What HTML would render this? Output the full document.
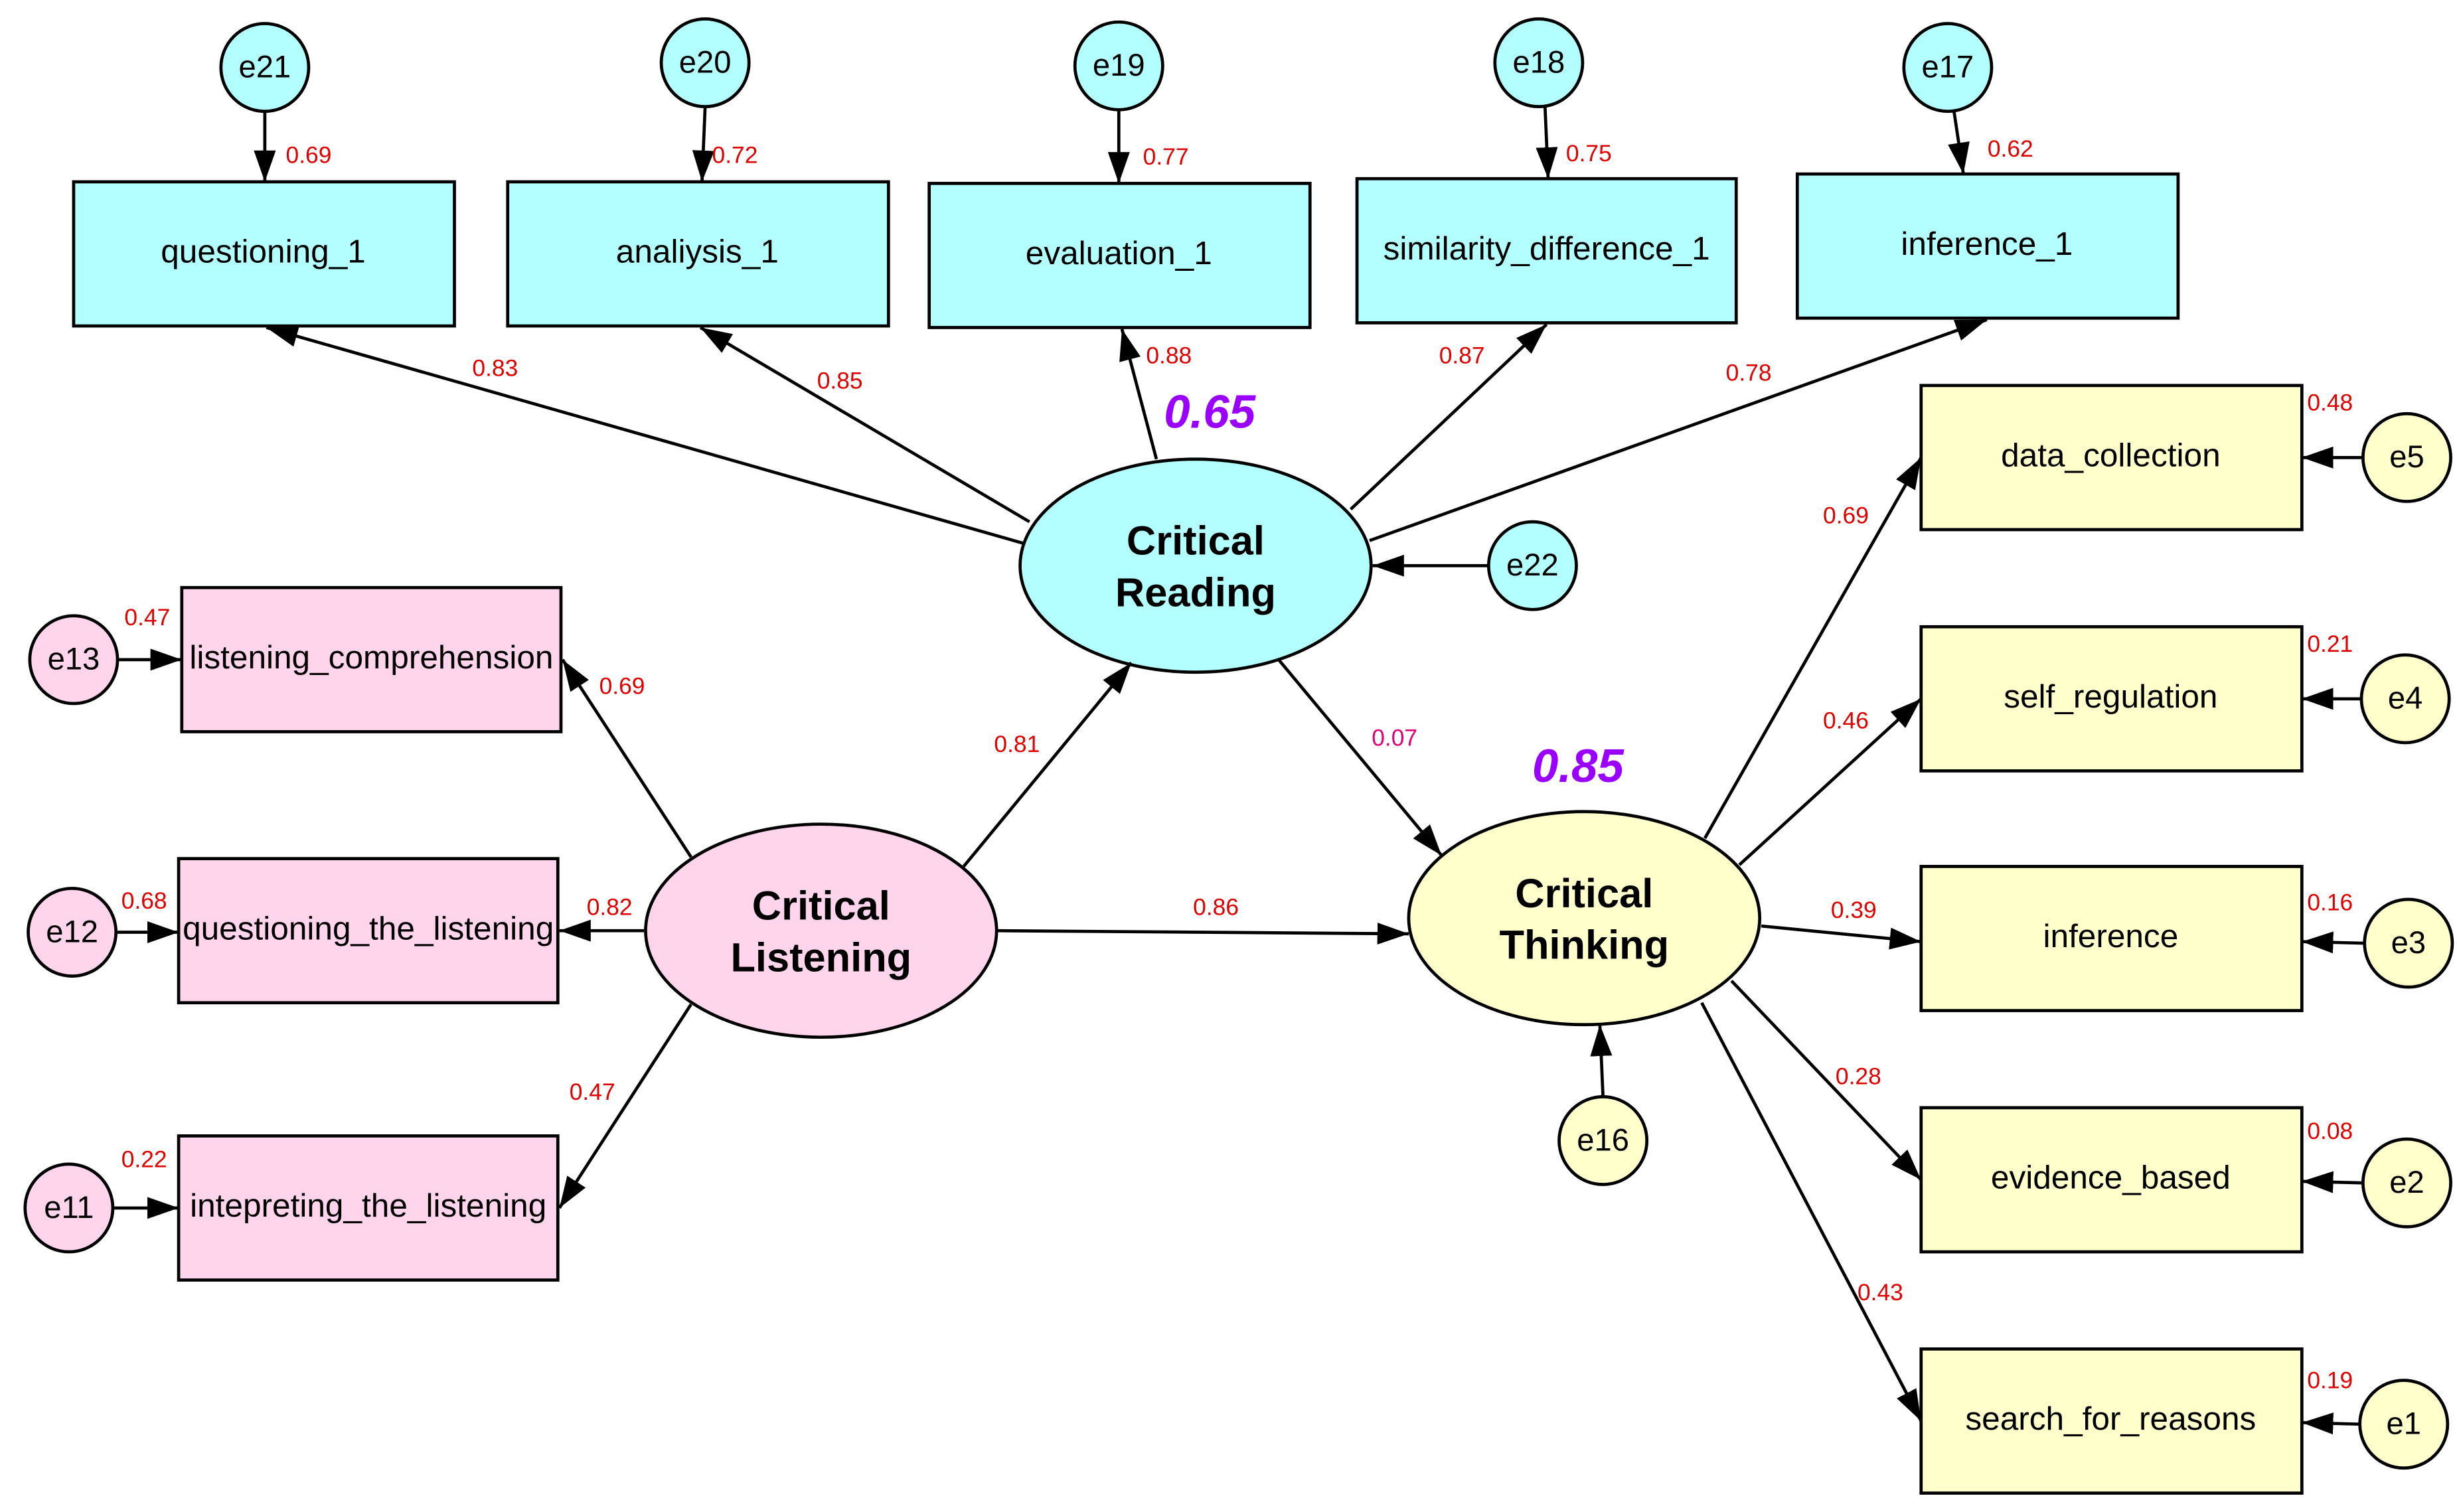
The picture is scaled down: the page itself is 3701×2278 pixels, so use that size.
<!DOCTYPE html>
<html><head><meta charset="utf-8">
<style>
html,body{margin:0;padding:0;background:#fff;}
svg{display:block;}
text{font-family:"Liberation Sans",Arial,sans-serif;}
.bx{font-size:21px;fill:#000;text-anchor:middle;dominant-baseline:middle;}
.el{font-size:26px;font-weight:bold;fill:#000;text-anchor:middle;}
.ci{font-size:20px;fill:#000;text-anchor:middle;dominant-baseline:middle;}
.n{font-size:15px;fill:#e00000;text-anchor:middle;dominant-baseline:middle;}
.p{font-size:30px;font-weight:bold;font-style:italic;fill:#9900ff;text-anchor:middle;}
line{stroke:#000;stroke-width:2;}
rect,circle,ellipse{stroke:#000;stroke-width:2;}
</style></head><body>
<svg width="3701" height="2278" viewBox="0 0 1568 965" xmlns="http://www.w3.org/2000/svg">
<defs>
<marker id="b" markerWidth="20" markerHeight="14" refX="20" refY="7" orient="auto" markerUnits="userSpaceOnUse" viewBox="0 0 20 14"><path d="M0,0 L20,7 L0,14 z" fill="#000"/></marker></defs>
<style>line{marker-end:url(#b);}</style>

<g fill="#b3ffff">
<rect x="47" y="116" width="243" height="92"/>
<rect x="324" y="116" width="243" height="92"/>
<rect x="593" y="117" width="243" height="92"/>
<rect x="866" y="114" width="242" height="92"/>
<rect x="1147" y="111" width="243" height="92"/>
<circle cx="169" cy="43" r="28"/><circle cx="450" cy="40" r="28"/><circle cx="714" cy="42" r="28"/><circle cx="982" cy="40" r="28"/><circle cx="1243" cy="43" r="28"/>
<circle cx="978" cy="361" r="28"/>
<ellipse cx="763" cy="361" rx="112" ry="68"/>
</g>
<text class="bx" x="168" y="162">questioning_1</text>
<text class="bx" x="445" y="162">analiysis_1</text>
<text class="bx" x="714" y="163">evaluation_1</text>
<text class="bx" x="987" y="160">similarity_difference_1</text>
<text class="bx" x="1268" y="157">inference_1</text>
<text class="ci" x="169" y="44">e21</text><text class="ci" x="450" y="41">e20</text><text class="ci" x="714" y="43">e19</text><text class="ci" x="982" y="41">e18</text><text class="ci" x="1243" y="44">e17</text><text class="ci" x="978" y="362">e22</text>
<text class="el" x="763" y="354">Critical</text><text class="el" x="763" y="387">Reading</text>
<line x1="169" y1="71" x2="169" y2="116"/><line x1="450" y1="68" x2="448" y2="116"/><line x1="714" y1="70" x2="714" y2="117"/><line x1="986" y1="68" x2="988" y2="114"/><line x1="1247" y1="71" x2="1253" y2="111"/>
<text class="n" x="197" y="100">0.69</text><text class="n" x="469" y="100">0.72</text><text class="n" x="744" y="101">0.77</text><text class="n" x="1014" y="99">0.75</text><text class="n" x="1283" y="96">0.62</text>
<line x1="950" y1="361" x2="876" y2="361"/>
<line x1="654" y1="347" x2="170" y2="209"/><line x1="657" y1="333" x2="447" y2="209"/><line x1="738" y1="293" x2="716" y2="210"/><line x1="862" y1="325" x2="987" y2="207"/><line x1="874" y1="345" x2="1268" y2="204"/>
<text class="n" x="316" y="236">0.83</text><text class="n" x="536" y="244">0.85</text><text class="n" x="746" y="228">0.88</text><text class="n" x="933" y="228">0.87</text><text class="n" x="1116" y="239">0.78</text>
<text class="p" x="772" y="273">0.65</text>

<g fill="#ffd5ec">
<rect x="116" y="375" width="242" height="92"/>
<rect x="114" y="548" width="242" height="92"/>
<rect x="114" y="725" width="242" height="92"/>
<circle cx="47" cy="421" r="28"/><circle cx="46" cy="595" r="28"/><circle cx="44" cy="771" r="28"/>
<ellipse cx="524" cy="594" rx="112" ry="68"/>
</g>
<text class="bx" x="237" y="421">listening_comprehension</text>
<text class="bx" x="235" y="594">questioning_the_listening</text>
<text class="bx" x="235" y="771">intepreting_the_listening</text>
<text class="ci" x="47" y="422">e13</text><text class="ci" x="46" y="596">e12</text><text class="ci" x="44" y="772">e11</text>
<text class="el" x="524" y="587">Critical</text><text class="el" x="524" y="620">Listening</text>
<line x1="75" y1="421" x2="116" y2="421"/><line x1="74" y1="595" x2="114" y2="595"/><line x1="72" y1="771" x2="114" y2="771"/>
<text class="n" x="94" y="395">0.47</text><text class="n" x="92" y="576">0.68</text><text class="n" x="92" y="741">0.22</text>
<line x1="441" y1="547" x2="359" y2="421"/><line x1="411" y1="594" x2="357" y2="594"/><line x1="441" y1="641" x2="357" y2="771"/>
<text class="n" x="397" y="439">0.69</text><text class="n" x="389" y="580">0.82</text><text class="n" x="378" y="698">0.47</text>
<line x1="615" y1="553" x2="722" y2="423"/><text class="n" x="649" y="476">0.81</text>
<line x1="637" y1="594" x2="899" y2="596"/><text class="n" x="776" y="580">0.86</text>
<line x1="816" y1="421" x2="920" y2="546"/><text class="n" x="890" y="472" style="fill:#e0007a">0.07</text>

<g fill="#ffffcc">
<rect x="1226" y="246" width="243" height="92"/>
<rect x="1226" y="400" width="243" height="92"/>
<rect x="1226" y="553" width="243" height="92"/>
<rect x="1226" y="707" width="243" height="92"/>
<rect x="1226" y="861" width="243" height="92"/>
<circle cx="1536" cy="292" r="28"/><circle cx="1535" cy="446" r="28"/><circle cx="1537" cy="602" r="28"/><circle cx="1536" cy="755" r="28"/><circle cx="1534" cy="909" r="28"/>
<circle cx="1023" cy="728" r="28"/>
<ellipse cx="1011" cy="586" rx="112" ry="68"/>
</g>
<text class="bx" x="1347" y="292">data_collection</text>
<text class="bx" x="1347" y="446">self_regulation</text>
<text class="bx" x="1347" y="599">inference</text>
<text class="bx" x="1347" y="753">evidence_based</text>
<text class="bx" x="1347" y="907">search_for_reasons</text>
<text class="ci" x="1536" y="293">e5</text><text class="ci" x="1535" y="447">e4</text><text class="ci" x="1537" y="603">e3</text><text class="ci" x="1536" y="756">e2</text><text class="ci" x="1534" y="910">e1</text><text class="ci" x="1023" y="729">e16</text>
<text class="el" x="1011" y="579">Critical</text><text class="el" x="1011" y="612">Thinking</text>
<line x1="1508" y1="292" x2="1469" y2="292"/><line x1="1507" y1="446" x2="1469" y2="446"/><line x1="1509" y1="602" x2="1469" y2="601"/><line x1="1508" y1="755" x2="1469" y2="754"/><line x1="1506" y1="909" x2="1469" y2="908"/>
<text class="n" x="1487" y="258">0.48</text><text class="n" x="1487" y="412">0.21</text><text class="n" x="1487" y="577">0.16</text><text class="n" x="1487" y="723">0.08</text><text class="n" x="1487" y="882">0.19</text>
<line x1="1023" y1="700" x2="1021" y2="654"/>
<line x1="1088" y1="535" x2="1226" y2="292"/><line x1="1110" y1="552" x2="1226" y2="446"/><line x1="1124" y1="591" x2="1226" y2="601"/><line x1="1105" y1="626" x2="1226" y2="753"/><line x1="1086" y1="640" x2="1226" y2="907"/>
<text class="n" x="1178" y="330">0.69</text><text class="n" x="1178" y="461">0.46</text><text class="n" x="1183" y="582">0.39</text><text class="n" x="1186" y="688">0.28</text><text class="n" x="1200" y="826">0.43</text>
<text class="p" x="1007" y="499">0.85</text>
</svg>
</body></html>
